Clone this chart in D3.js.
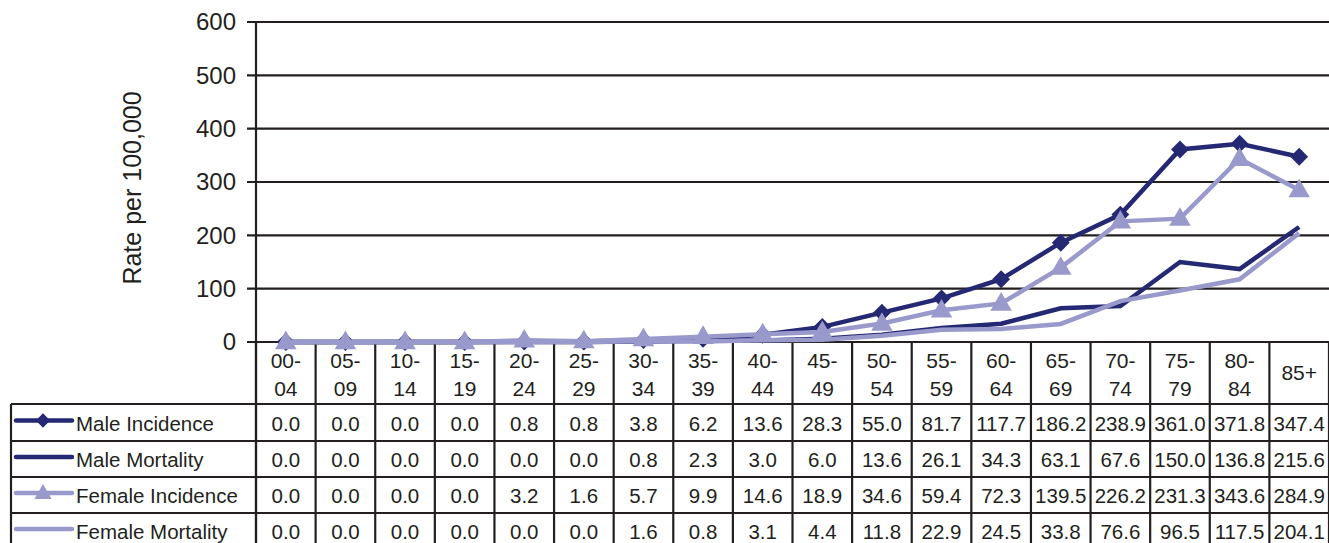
<!DOCTYPE html>
<html><head><meta charset="utf-8">
<script src="https://cdn.jsdelivr.net/npm/d3@7/dist/d3.min.js"></script>
<style>body{margin:0;background:#fff}svg{display:block}text{font-family:"Liberation Sans",Arial,sans-serif;fill:#231f20}</style>
</head><body>
<svg id="c" width="1329" height="543"></svg>
<script>
const categories = ["00-04","05-09","10-14","15-19","20-24","25-29","30-34","35-39","40-44","45-49","50-54","55-59","60-64","65-69","70-74","75-79","80-84","85+"];
const maleIncidence   = [0.0,0.0,0.0,0.0,0.8,0.8,3.8,6.2,13.6,28.3,55.0,81.7,117.7,186.2,238.9,361.0,371.8,347.4];
const maleMortality   = [0.0,0.0,0.0,0.0,0.0,0.0,0.8,2.3,3.0,6.0,13.6,26.1,34.3,63.1,67.6,150.0,136.8,215.6];
const femaleIncidence = [0.0,0.0,0.0,0.0,3.2,1.6,5.7,9.9,14.6,18.9,34.6,59.4,72.3,139.5,226.2,231.3,343.6,284.9];
const femaleMortality = [0.0,0.0,0.0,0.0,0.0,0.0,1.6,0.8,3.1,4.4,11.8,22.9,24.5,33.8,76.6,96.5,117.5,204.1];
const yTicks = [0,100,200,300,400,500,600];
const yTitle = "Rate per 100,000";

const series = [
  {name:"Male Incidence", values:maleIncidence, color:"#252873", marker:"diamond"},
  {name:"Male Mortality", values:maleMortality, color:"#252873", marker:null},
  {name:"Female Incidence", values:femaleIncidence, color:"#9999cc", marker:"triangle"},
  {name:"Female Mortality", values:femaleMortality, color:"#9999cc", marker:null}
];

const svg = d3.select("#c");
const L = 256, R = 1329, T = 22, B = 342;
const x = d3.scaleBand().domain(categories).range([L, R]);
const y = d3.scaleLinear().domain([0, 600]).range([B, T]);
const ink = "#231f20";

// gridlines
svg.append("g").selectAll("line").data(yTicks).join("line")
  .attr("x1", L - 9).attr("x2", R).attr("y1", d => y(d)).attr("y2", d => y(d))
  .attr("stroke", ink).attr("stroke-width", 2.2);
// y axis labels
svg.append("g").selectAll("text").data(yTicks).join("text")
  .attr("x", 236).attr("y", d => y(d)).attr("dy", "0.35em")
  .attr("text-anchor", "end").attr("font-size", 24).text(d => d);
// y title
svg.append("text").attr("transform", `translate(141,${(T+B)/2 + 6}) rotate(-90)`)
  .attr("text-anchor", "middle").attr("font-size", 25).text(yTitle);

// table
const rowTop = [404, 441, 477, 513, 549];
const tbl = svg.append("g");
const bounds = categories.map(c => x(c)).concat([R]);
tbl.selectAll("line.v").data(bounds).join("line").attr("class","v")
  .attr("x1", d => d).attr("x2", d => d).attr("y1", B).attr("y2", 549)
  .attr("stroke", ink).attr("stroke-width", 2.2);
tbl.append("line").attr("x1", L).attr("x2", L).attr("y1", T).attr("y2", 549)
  .attr("stroke", ink).attr("stroke-width", 2.2);
rowTop.forEach(ry => tbl.append("line").attr("x1", 11).attr("x2", R).attr("y1", ry).attr("y2", ry)
  .attr("stroke", ink).attr("stroke-width", 2.2));
tbl.append("line").attr("x1", 11).attr("x2", 11).attr("y1", 404).attr("y2", 549)
  .attr("stroke", ink).attr("stroke-width", 2.2);

categories.forEach(c => {
  const cx = x(c) + x.bandwidth()/2;
  const parts = c.includes("-") ? [c.split("-")[0] + "-", c.split("-")[1]] : [c];
  if (parts.length === 2) {
    tbl.append("text").attr("x", cx).attr("y", 368).attr("text-anchor","middle").attr("font-size", 21).text(parts[0]);
    tbl.append("text").attr("x", cx).attr("y", 396).attr("text-anchor","middle").attr("font-size", 21).text(parts[1]);
  } else {
    tbl.append("text").attr("x", cx).attr("y", 380).attr("text-anchor","middle").attr("font-size", 21).text(parts[0]);
  }
});

const diamond = d3.symbol().type(d3.symbolSquare).size(160);
const triangle = d3.symbol().type(d3.symbolTriangle).size(200);
const markerTf = (m, px, py) => m === "diamond" ? `translate(${px},${py}) rotate(45)` : `translate(${px},${py + 1})`;

series.forEach((s, i) => {
  const cy = (rowTop[i] + rowTop[i+1]) / 2;
  tbl.append("line").attr("x1", 16).attr("x2", 72).attr("y1", cy - 2).attr("y2", cy - 2)
    .attr("stroke", s.color).attr("stroke-width", 4.5).attr("stroke-linecap","round");
  if (s.marker) tbl.append("path").attr("d", s.marker === "diamond" ? diamond() : triangle())
    .attr("fill", s.color).attr("transform", markerTf(s.marker, 43, cy - 2) + " scale(0.8)");
  tbl.append("text").attr("x", 76).attr("y", cy + 8).attr("font-size", 20.5).text(s.name);
  s.values.forEach((v, j) => {
    tbl.append("text").attr("x", x(categories[j]) + x.bandwidth()/2).attr("y", cy + 8)
      .attr("text-anchor","middle").attr("font-size", 20.5).text(v.toFixed(1));
  });
});

const line = d3.line().x((d, i) => x(categories[i]) + x.bandwidth()/2).y(d => y(d));
series.forEach(s => {
  const g = svg.append("g");
  g.append("path").datum(s.values).attr("d", line).attr("fill","none")
    .attr("stroke", s.color).attr("stroke-width", 4.5).attr("stroke-linejoin","miter");
  if (s.marker) {
    g.selectAll("path.m").data(s.values).join("path").attr("class","m")
      .attr("d", s.marker === "diamond" ? diamond() : triangle())
      .attr("fill", s.color)
      .attr("transform", (d, i) => markerTf(s.marker, x(categories[i]) + x.bandwidth()/2, y(d)));
  }
});
</script>
</body></html>
